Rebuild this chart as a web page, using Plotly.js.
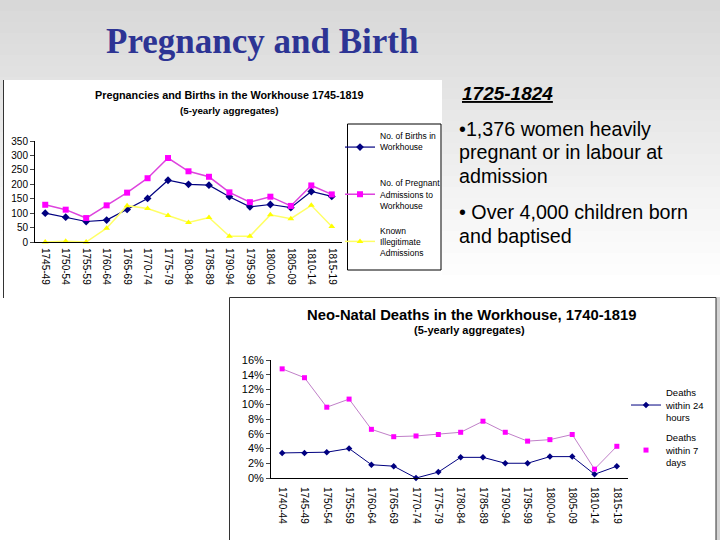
<!DOCTYPE html>
<html><head><meta charset="utf-8">
<script src="https://cdn.plot.ly/plotly-3.0.1.min.js"></script>
<style>html,body{margin:0;padding:0;background:#fff}#g{width:720px;height:540px}</style>
</head><body><div id="g"></div>
<script>
// ---- data ----
const periods1 = ["1745-49","1750-54","1755-59","1760-64","1765-69","1770-74","1775-79","1780-84","1785-89","1790-94","1795-99","1800-04","1805-09","1810-14","1815-19"];
const births = [100,86,71,76,113,151,214,200,197,157,122,130,119,175,158];
const pregnantAdmissions = [129,112,83,127,171,221,291,245,226,172,138,157,125,196,165];
const illegitimate = [0,3,0,48,126,116,92,68,85,20,20,94,81,127,54];

const periods2 = ["1740-44","1745-49","1750-54","1755-59","1760-64","1765-69","1770-74","1775-79","1780-84","1785-89","1790-94","1795-99","1800-04","1805-09","1810-14","1815-19"];
const deaths24h = [3.4,3.4,3.5,4.0,1.8,1.6,0,0.8,2.8,2.8,2.0,2.0,2.9,2.9,0.5,1.6];
const deaths7d = [14.8,13.6,9.6,10.7,6.6,5.6,5.7,5.9,6.2,7.7,6.2,5.0,5.2,5.9,1.2,4.3];

const slideTitle = "Pregnancy and Birth";
const bulletLines = ["•1,376 women heavily", "pregnant or in labour at", "admission", "• Over 4,000 children born", "and baptised"];

// ---- helpers (pixel -> paper) ----
const W = 720, H = 540;
const px = v => v / W;
const py = v => 1 - v / H;

const traces = [
  {x: periods1, y: births, name: "No. of Births in<br>Workhouse<br> ", mode: "lines+markers",
   line: {color: "#000080", width: 1.2}, marker: {symbol: "diamond", size: 6, color: "#000080"},
   xaxis: "x", yaxis: "y", legend: "legend", legendgroup: "a", cliponaxis: false},
  {x: periods1, y: pregnantAdmissions, name: "No. of Pregnant<br>Admissions to<br>Workhouse", mode: "lines+markers",
   line: {color: "#dd44dd", width: 1.5}, marker: {symbol: "square", size: 6, color: "#ff00ff"},
   xaxis: "x", yaxis: "y", legend: "legend", legendgroup: "b", cliponaxis: false},
  {x: periods1, y: illegitimate, name: "Known<br>Illegitimate<br>Admissions", mode: "lines+markers",
   line: {color: "#ffff66", width: 1.5}, marker: {symbol: "triangle-up", size: 6, color: "#ffff00"},
   xaxis: "x", yaxis: "y", legend: "legend", legendgroup: "c", cliponaxis: false},
  {x: periods2, y: deaths24h, name: "Deaths<br>within 24<br>hours", mode: "lines+markers",
   line: {color: "#000080", width: 1}, marker: {symbol: "diamond", size: 5, color: "#000080"},
   xaxis: "x2", yaxis: "y2", legend: "legend2", legendgroup: "d", cliponaxis: false},
  {x: periods2, y: deaths7d, mode: "lines", showlegend: false,
   line: {color: "#c080c8", width: 1}, xaxis: "x2", yaxis: "y2", hoverinfo: "skip", cliponaxis: false},
  {x: periods2, y: deaths7d, name: "Deaths<br>within 7<br>days", mode: "markers",
   marker: {symbol: "square", size: 5, color: "#ff00ff"},
   xaxis: "x2", yaxis: "y2", legend: "legend2", legendgroup: "e", cliponaxis: false}
];

// background gradient bands
const shapes = [];
const bands = 26;
for (let i = 0; i < bands; i++) {
  const t = i / (bands - 1);
  const c = Math.round(216 + (255 - 216) * t);
  shapes.push({type: "rect", xref: "paper", yref: "paper", layer: "below",
    x0: 0, x1: 1, y0: py(i * 11 + 11), y1: py(i * 11), fillcolor: `rgb(${c},${c},${c})`, line: {width: 0}});
}
// top chart box
shapes.push({type: "rect", xref: "paper", yref: "paper", layer: "below",
  x0: px(3), x1: px(442), y0: py(298), y1: py(80), fillcolor: "#ffffff", line: {width: 0}});
shapes.push({type: "line", xref: "paper", yref: "paper", layer: "below",
  x0: px(3.5), x1: px(3.5), y0: py(298), y1: py(80), line: {color: "#333", width: 1}});
// top legend frame
shapes.push({type: "rect", xref: "paper", yref: "paper", layer: "below",
  x0: px(347.5), x1: px(441), y0: py(270), y1: py(124), fillcolor: "#ffffff", line: {color: "#000", width: 1}});
// right strip
shapes.push({type: "rect", xref: "paper", yref: "paper", layer: "below",
  x0: px(716), x1: 1, y0: 0, y1: py(297), fillcolor: "#d4d4d4", line: {width: 0}});
// bottom chart box
shapes.push({type: "rect", xref: "paper", yref: "paper", layer: "below",
  x0: px(229.5), x1: px(716), y0: py(541), y1: py(297.5), fillcolor: "#ffffff", line: {color: "#333", width: 1}});

const F = "Arial, 'Liberation Sans', sans-serif";
const A = (text, x, y, size, extra) => Object.assign({text, x: px(x), y: py(y), xref: "paper", yref: "paper",
  xanchor: "center", yanchor: "middle", showarrow: false, font: {family: F, size, color: "#000"}}, extra || {});

const annotations = [
  A(slideTitle, 262, 42, 35, {font: {family: "'Liberation Serif', serif", size: 35, color: "#2d3494", weight: "bold"}}),
  A("<b>Pregnancies and Births in the Workhouse 1745-1819</b>", 230, 95, 10.8),
  A("<b>(5-yearly aggregates)</b>", 229, 111, 9.8),
  A("<b>Neo-Natal Deaths in the Workhouse, 1740-1819</b>", 471, 315, 14.8),
  A("<b>(5-yearly aggregates)</b>", 469, 330, 11),
  A("<b><i><u>1725-1824</u></i></b>", 460, 93.5, 19, {xanchor: "left"})
];
const lineY = [129, 152, 176, 212, 236];
bulletLines.forEach((t, i) => annotations.push(A(t, 457, lineY[i], 19.7, {xanchor: "left"})));

const layout = {
  width: W, height: H, margin: {l: 0, r: 0, t: 0, b: 0},
  paper_bgcolor: "#ffffff", plot_bgcolor: "#c0c0c0",
  font: {family: F, color: "#000"},
  showlegend: true,
  xaxis: {domain: [px(35), px(342)], anchor: "y", type: "category", range: [-0.5, 14.5],
    tickangle: 90, tickfont: {size: 10}, ticklabelstandoff: 3, showline: true, linecolor: "#000", linewidth: 1, ticks: "", showgrid: false, zeroline: false},
  yaxis: {domain: [py(242), py(141)], anchor: "x", range: [0, 350], dtick: 50, ticks: "outside", ticklen: 4,
    tickfont: {size: 10}, showline: true, linecolor: "#000", linewidth: 1, showgrid: false, zeroline: false},
  xaxis2: {domain: [px(271), px(628)], anchor: "y2", type: "category", range: [-0.5, 15.5],
    tickangle: 90, tickfont: {size: 10}, ticklabelstandoff: 6, showline: true, linecolor: "#000", linewidth: 1, ticks: "", showgrid: false, zeroline: false},
  yaxis2: {domain: [py(478), py(360)], anchor: "x2", range: [0, 16], dtick: 2, ticksuffix: "%", ticks: "outside", ticklen: 4,
    tickfont: {size: 11}, showline: true, linecolor: "#000", linewidth: 1, showgrid: false, zeroline: false},
  legend: {x: px(340), y: py(124), xanchor: "left", yanchor: "top", bgcolor: "rgba(0,0,0,0)", borderwidth: 0,
    font: {size: 8.5, family: F}, traceorder: "grouped", tracegroupgap: 11, itemwidth: 30},
  legend2: {x: px(626), y: py(380), xanchor: "left", yanchor: "top", bgcolor: "rgba(0,0,0,0)", borderwidth: 0,
    font: {size: 9.5, family: F}, traceorder: "grouped", tracegroupgap: 5, itemwidth: 30},
  shapes: shapes, annotations: annotations
};

Plotly.newPlot("g", traces, layout, {staticPlot: true});
</script></body></html>
